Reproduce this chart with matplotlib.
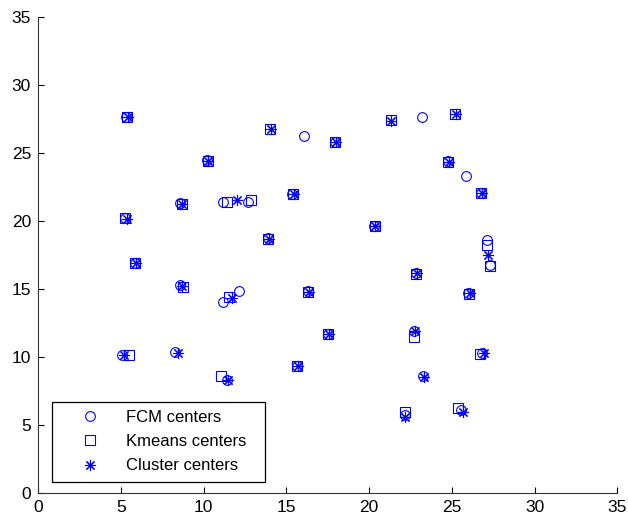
import matplotlib
matplotlib.use("Agg")
import matplotlib.pyplot as plt

plt.rcParams['font.family'] = ['Liberation Sans', 'DejaVu Sans']

fcm_x = [5.3, 16.1, 10.2, 5.25, 8.6, 11.2, 12.7, 15.35, 13.9, 17.95, 23.2, 24.8, 25.85,
         26.75, 20.3, 27.1, 27.3, 22.85, 16.3, 26.0, 17.5, 22.7, 26.85, 23.25, 22.15,
         25.55, 5.85, 8.6, 11.15, 12.15, 5.1, 8.3, 11.4, 15.65]
fcm_y = [27.6, 26.25, 24.45, 20.2, 21.3, 21.4, 21.4, 21.95, 18.7, 25.8, 27.65, 24.35, 23.3,
         22.0, 19.6, 18.55, 16.75, 16.15, 14.8, 14.65, 11.7, 11.9, 10.3, 8.6, 5.7,
         6.05, 16.9, 15.25, 14.05, 14.85, 10.15, 10.35, 8.3, 9.3]

km_x = [5.35, 14.0, 10.25, 5.25, 8.7, 11.4, 12.85, 15.4, 13.9, 17.95, 21.3, 25.2, 24.8,
        26.75, 20.35, 27.1, 27.3, 22.85, 16.3, 26.05, 17.55, 22.7, 26.7, 22.2, 25.35,
        5.85, 8.75, 11.55, 5.5, 11.05, 15.65]
km_y = [27.6, 26.75, 24.4, 20.2, 21.25, 21.4, 21.5, 21.95, 18.65, 25.8, 27.4, 27.85, 24.3,
        22.0, 19.6, 18.2, 16.7, 16.05, 14.75, 14.6, 11.65, 11.45, 10.2, 5.9, 6.2,
        16.85, 15.1, 14.35, 10.15, 8.55, 9.3]

cl_x = [5.45, 14.05, 10.3, 5.35, 8.7, 12.05, 15.45, 13.95, 18.0, 21.35, 25.25, 24.85,
        26.8, 20.35, 27.2, 22.9, 16.35, 26.1, 17.6, 22.75, 26.95, 23.3, 22.2, 25.65,
        5.9, 8.7, 11.7, 5.2, 8.45, 11.45, 15.7]
cl_y = [27.6, 26.7, 24.4, 20.15, 21.25, 21.5, 21.95, 18.65, 25.8, 27.35, 27.8, 24.3,
        22.0, 19.6, 17.5, 16.15, 14.75, 14.65, 11.65, 11.85, 10.3, 8.5, 5.6, 5.95,
        16.85, 15.2, 14.3, 10.15, 10.3, 8.25, 9.3]

labels = ['FCM centers', 'Kmeans centers', 'Cluster centers']

fig = plt.figure(figsize=(6.28, 5.17), dpi=100)
ax = fig.add_axes([0.0605, 0.047, 0.9225, 0.921])

blue = (0, 0, 1)
ax.plot(fcm_x, fcm_y, linestyle='none', marker='o', markersize=7, markerfacecolor='none',
        markeredgecolor=blue, markeredgewidth=0.8, label=labels[0])
ax.plot(km_x, km_y, linestyle='none', marker='s', markersize=7, markerfacecolor='none',
        markeredgecolor=blue, markeredgewidth=0.8, label=labels[1])
ax.plot(cl_x, cl_y, linestyle='none', marker=(8, 2, 0), markersize=8,
        markeredgecolor=blue, markeredgewidth=0.8, label=labels[2])

ax.set_xlim(0, 35)
ax.set_ylim(0, 35)
ax.set_xticks(range(0, 36, 5))
ax.set_yticks(range(0, 36, 5))
ax.spines['top'].set_visible(False)
ax.spines['right'].set_visible(False)
for s in ['left', 'bottom']:
    ax.spines[s].set_linewidth(0.8)
    ax.spines[s].set_color('#333333')
ax.tick_params(direction='in', length=4, width=0.8, labelsize=12.5, colors='black', pad=5)

leg = ax.legend(loc='lower left', bbox_to_anchor=(0.0236, 0.023, 0.368, 0.166),
                mode='expand', fancybox=False, framealpha=1, edgecolor='black',
                fontsize=12, handlelength=3.6, handletextpad=0.35, borderpad=0.5,
                labelspacing=0.55, borderaxespad=0)
leg.get_frame().set_linewidth(0.9)

fig.savefig('out.png', dpi=100)
